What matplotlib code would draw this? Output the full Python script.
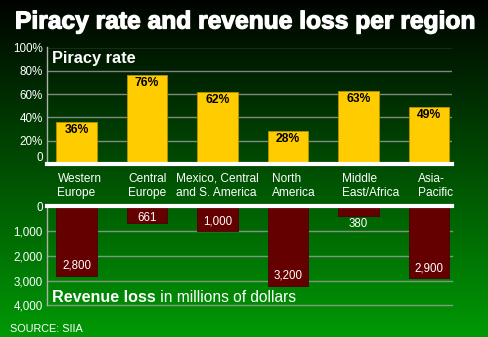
import numpy as np
import matplotlib
matplotlib.use("Agg")
import matplotlib.pyplot as plt
import matplotlib.patheffects as pe

# Software piracy by region (source: SIIA)
regions = ["Western\nEurope", "Central\nEurope", "Mexico, Central\nand S. America",
           "North\nAmerica", "Middle\nEast/Africa", "Asia-\nPacific"]
piracy_rate = [36, 76, 62, 28, 63, 49]             # percent
revenue_loss = [2800, 661, 1000, 3200, 380, 2900]  # millions of dollars
rate_ticks = [0, 20, 40, 60, 80, 100]
rate_ticklabels = ["0", "20%", "40%", "60%", "80%", "100%"]
loss_ticks = [0, 1000, 2000, 3000, 4000]
loss_ticklabels = ["0", "1,000", "2,000", "3,000", "4,000"]

W, H = 489, 337
SANS = ["Liberation Sans", "DejaVu Sans"]
YELLOW = "#ffcc00"
MAROON = "#650000"
GRID = "#a0a0a0"
PT = 0.72  # points per pixel at 100 dpi


def fx(px):
    return px / W


def fy(py):
    return 1 - py / H


fig = plt.figure(figsize=(W / 100, H / 100), dpi=100)

# black-to-green vertical backdrop
bg = fig.add_axes([0, 0, 1, 1], zorder=-10)
t = np.linspace(0, 1, 256)[:, None, None]
top = np.array([0.0, 0.01, 0.0])
bot = np.array([0.0, 0.60, 0.02])
grad = top + (bot - top) * t
bg.imshow(np.repeat(grad, 2, axis=1), aspect="auto", extent=[0, 1, 0, 1])
bg.set_axis_off()

x = np.arange(len(regions))
xlim = (-0.418, 5.326)
bar_w = 0.58

# piracy rate panel
ax1 = fig.add_axes([fx(47), fy(164), fx(452 - 47), (164 - 47.5) / H])
ax1.set_facecolor("none")
ax1.set_xlim(*xlim)
ax1.set_ylim(0, 100)
for g in rate_ticks[1:]:
    ax1.axhline(g, color=GRID, lw=1, alpha=0.8, zorder=1)
ax1.bar(x, piracy_rate, width=bar_w, color=YELLOW, edgecolor="#b89000",
        linewidth=0.6, zorder=2)
ax1.axhline(0, color="white", lw=3, zorder=3, clip_on=False)
for i, v in enumerate(piracy_rate):
    ax1.annotate(f"{v}%", (i, v), xytext=(0, -8 * PT), textcoords="offset points",
                 ha="center", va="center", color="black", fontsize=8.7,
                 fontweight="bold", family=SANS, zorder=4)

# region names between the panels, one annotation per line
label_dx = [-19, -19, -41, -16, -17, -11]
for i, (name, dx) in enumerate(zip(regions, label_dx)):
    for j, line in enumerate(name.split("\n")):
        ax1.annotate(line, (i, 0), xytext=(dx * PT, -(17.7 + 14.3 * j) * PT),
                     textcoords="offset points", ha="left", va="baseline",
                     color="white", fontsize=8.6, family=SANS,
                     annotation_clip=False)

# revenue loss panel (bars hang down from zero)
ax2 = fig.add_axes([fx(47), fy(305.3), fx(452 - 47), (305.3 - 206.5) / H])
ax2.set_facecolor("none")
ax2.set_xlim(*xlim)
ax2.set_ylim(4000, 0)
for g in loss_ticks[1:]:
    ax2.axhline(g, color=GRID, lw=1, alpha=0.8, zorder=1, clip_on=False)
ax2.bar(x, revenue_loss, width=bar_w, color=MAROON, edgecolor="#4a0000",
        linewidth=0.6, zorder=2)
ax2.axhline(0, color="white", lw=3, zorder=3, clip_on=False)
for i, v in enumerate(revenue_loss):
    # short bars get their value underneath, the rest inside near the end
    if v < 500:
        dy = -8
    elif v < 800:
        dy = 5
    else:
        dy = 10
    ax2.annotate(f"{v:,}", (i, v), xytext=(0, dy * PT), textcoords="offset points",
                 ha="center", va="center", color="white", fontsize=8.3,
                 family=SANS, zorder=4)

for ax, ticks, labels in ((ax1, rate_ticks, rate_ticklabels),
                          (ax2, loss_ticks, loss_ticklabels)):
    ax.set_yticks(ticks)
    ax.set_yticklabels(labels, color="white", fontsize=8.4, family=SANS)
    ax.tick_params(axis="y", length=0, pad=3)
    ax.set_xticks([])
    for side in ("top", "right", "bottom"):
        ax.spines[side].set_visible(False)
    ax.spines["left"].set_color("#b0b0b0")
    ax.spines["left"].set_linewidth(1)

# the "0" on the rate axis sits just above the white baseline
ax1.get_yticklabels()[0].set_va("bottom")

fig.text(fx(15), fy(28.5), "Piracy rate and revenue loss per region", color="white",
         fontsize=17.7, fontweight="bold", family=SANS, va="baseline", ha="left",
         path_effects=[pe.withStroke(linewidth=0.9, foreground="white")])

fig.text(fx(52), fy(63.3), "Piracy rate", color="white", fontsize=11.8,
         fontweight="bold", family=SANS, va="baseline", ha="left")

rl = fig.text(fx(52), fy(301.7), "Revenue loss", color="white", fontsize=11.6,
              fontweight="bold", family=SANS, va="baseline", ha="left")
ax2.annotate(" in millions of dollars", xy=(1, 0), xycoords=rl, ha="left",
             va="bottom", color="white", fontsize=11.2, family=SANS,
             annotation_clip=False)

fig.text(fx(10), fy(331.7), "SOURCE: SIIA", color="white", fontsize=7.8,
         family=SANS, va="baseline", ha="left")

fig.savefig("out.png", dpi=100)
